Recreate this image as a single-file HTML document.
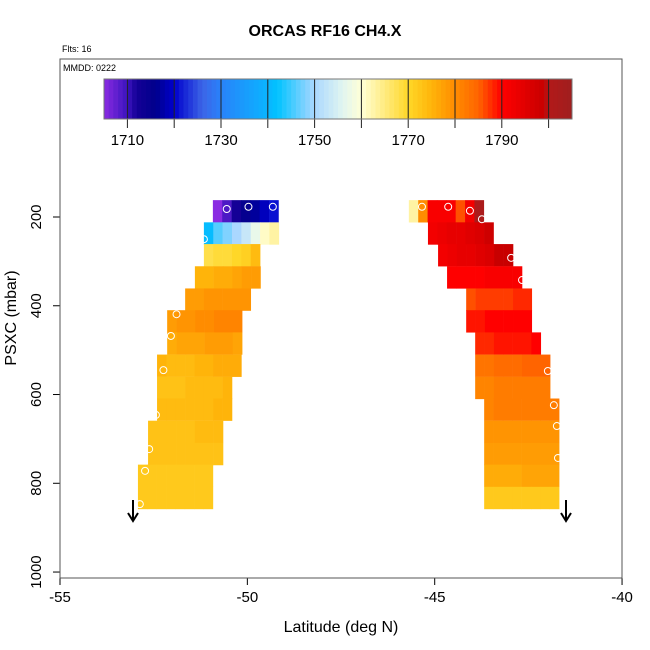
<!DOCTYPE html>
<html><head><meta charset="utf-8"><style>
body{margin:0;background:#fff}
svg{display:block;font-family:"Liberation Sans",sans-serif}
</style></head><body>
<svg id="c" width="650" height="650">
<text x="325" y="36" text-anchor="middle" font-size="16" font-weight="bold">ORCAS RF16 CH4.X</text>
<text x="62" y="52" font-size="9">Flts: 16</text>
<text x="63" y="71" font-size="9">MMDD: 0222</text>
<text x="341" y="632" text-anchor="middle" font-size="16">Latitude (deg N)</text>
<text transform="translate(16,318) rotate(-90)" text-anchor="middle" font-size="16">PSXC (mbar)</text>
<g id="cb"></g>
<g id="cells"></g>
<g id="pts"></g>
<g id="ax"></g>
<rect x="60" y="59" width="562" height="519" fill="none" stroke="#555" stroke-width="1"/>
<g><line x1="133" y1="500" x2="133" y2="520" stroke="#000" stroke-width="2"/><path d="M128,513 L133,521 L138,513" fill="none" stroke="#000" stroke-width="2"/></g>
<g><line x1="566" y1="500" x2="566" y2="520" stroke="#000" stroke-width="2"/><path d="M561,513 L566,521 L571,513" fill="none" stroke="#000" stroke-width="2"/></g>
</svg>
<script>
const xTicks=[-55,-50,-45,-40];
const yTicks=[200,400,600,800,1000];
const cbTicks=[1710,1730,1750,1770,1790];
const rowTops=[162,212,261,311,361,410,460,510,560,609,659,709,758,808];
const rowStep=49.7;
const leftStart=[-50.92,-51.16,-51.16,-51.40,-51.66,-52.14,-52.14,-52.41,-52.41,-52.41,-52.65,-52.65,-52.92,-52.92];
const leftVals=[
[1705,1709,1712,1715,1717,1719,1721],
[1741,1746,1748,1750,1753,1757,1761,1763],
[1768,1769,1769,1770,1771,1774],
[1775,1775,1776,1776,1777,1778,1778],
[1778,1778,1779,1779,1779,1779,1779],
[1778,1779,1779,1780,1780,1781,1781,1781],
[1776,1777,1777,1777,1778,1778,1778,1777],
[1775,1774,1774,1774,1775,1775,1776,1776,1776],
[1773,1773,1773,1774,1774,1774,1774,1775],
[1774,1774,1774,1774,1774,1774,1775,1775],
[1773,1773,1773,1773,1773,1774,1774,1774],
[1773,1773,1773,1773,1773,1773,1773,1773],
[1772,1772,1772,1772,1772,1772,1772,1772],
[1772,1772,1772,1772,1772,1772,1772,1772]];
const rightStart=[-45.69,-45.18,-44.91,-44.67,-44.16,-44.16,-43.92,-43.92,-43.92,-43.68,-43.68,-43.68,-43.68,-43.68];
const rightVals=[
[1763,1780,1791,1791,1791,1786,1792,1802],
[1792,1793,1794,1794,1795,1796,1798],
[1792,1793,1794,1794,1795,1796,1799,1799],
[1790,1790,1790,1790,1791,1791,1791,1791],
[1786,1787,1787,1787,1787,1788,1788],
[1789,1789,1790,1790,1790,1790,1790],
[1788,1788,1789,1789,1789,1789,1790],
[1783,1783,1784,1784,1784,1785,1785,1785],
[1781,1781,1782,1782,1782,1782,1782,1782],
[1781,1782,1782,1782,1782,1782,1782,1782],
[1779,1779,1779,1779,1779,1779,1779,1779],
[1778,1778,1778,1778,1778,1778,1778,1778],
[1776,1776,1776,1776,1777,1777,1777,1777],
[1772,1772,1772,1772,1772,1772,1772,1772]];
const ptLat=[-50.55,-49.97,-49.32,-51.16,-51.89,-52.04,-52.24,-52.44,-52.62,-52.73,-52.87,-45.34,-44.64,-44.06,-43.74,-42.96,-42.67,-41.98,-41.82,-41.74,-41.71];
const ptP=[182,177,177,250,419,468,545,646,723,772,847,177,177,186,205,292,342,547,624,671,743];
const cellW=0.25;
const NS='http://www.w3.org/2000/svg';
const X=l=>60+(l+55)*37.47;
const Y=p=>217+(p-200)*0.4438;
const CB=v=>104+(v-1705)*4.68;
const stops=[[1705,[138,43,226]],[1710,[60,20,190]],[1712,[20,0,150]],[1716,[0,0,140]],[1720,[0,0,205]],[1726,[60,100,230]],[1730,[40,130,250]],[1740,[10,180,255]],[1742,[0,195,255]],[1750,[170,215,255]],[1756,[225,245,240]],[1760,[255,255,215]],[1770,[255,215,40]],[1775,[255,180,10]],[1780,[255,140,0]],[1785,[255,100,0]],[1790,[255,0,0]],[1799,[200,0,0]],[1800,[178,25,25]],[1805,[160,30,30]]];
function col(v){
  if(v<=stops[0][0])return 'rgb('+stops[0][1]+')';
  for(let i=1;i<stops.length;i++){if(v<=stops[i][0]){const a=stops[i-1],b=stops[i],t=(v-a[0])/(b[0]-a[0]);return 'rgb('+a[1].map((c,k)=>Math.round(c+(b[1][k]-c)*t)).join(',')+')';}}
  return 'rgb('+stops[stops.length-1][1]+')';
}
function mk(tag,at,parent){const e=document.createElementNS(NS,tag);for(const k in at)e.setAttribute(k,at[k]);parent.appendChild(e);return e;}
const cb=document.getElementById('cb');
for(let v=1705;v<1805;v++){
  const r=mk('rect',{x:CB(v),y:79,width:4.68+0.4,height:40,fill:col(v+0.5)},cb);
  
  
}
for(let v=1710;v<1805;v+=10){
  const l=mk('line',{x1:CB(v),y1:79,x2:CB(v),y2:128,stroke:'#222','stroke-width':1},cb);
  
  
}
mk('rect',{x:CB(1705),y:79,width:CB(1805)-CB(1705),height:40,fill:'none',stroke:'#777'},cb);
cbTicks.forEach(v=>{const t=mk('text',{x:CB(v),y:145,'text-anchor':'middle','font-size':15},cb);t.textContent=v;
  
  });
const cells=document.getElementById('cells');
function drawBlock(starts,vals,side){
  vals.forEach((row,i)=>{row.forEach((v,j)=>{
    const l0=starts[i]+j*cellW;
    const r=mk('rect',{x:X(l0),y:Y(rowTops[i]),width:X(l0+cellW)-X(l0)+0.3,height:Y(rowTops[i]+rowStep)-Y(rowTops[i])+0.3,fill:col(v)},cells);
    
    
  });});
}
drawBlock(leftStart,leftVals,'left');
drawBlock(rightStart,rightVals,'right');
const pts=document.getElementById('pts');
ptLat.forEach((l,i)=>{const c=mk('circle',{cx:X(l),cy:Y(ptP[i]),r:3.5,fill:'none',stroke:'#fff','stroke-width':1},pts);
  
  });
const ax=document.getElementById('ax');
xTicks.forEach(v=>{mk('line',{x1:X(v),y1:578,x2:X(v),y2:585,stroke:'#000'},ax);
  const t=mk('text',{x:X(v),y:602,'text-anchor':'middle','font-size':15},ax);t.textContent=v;
  
  });
yTicks.forEach(v=>{mk('line',{x1:53,y1:Y(v),x2:60,y2:Y(v),stroke:'#000'},ax);
  const t=mk('text',{transform:'translate(41,'+Y(v)+') rotate(-90)','text-anchor':'middle','font-size':15},ax);t.textContent=v;
  
  });
</script>
</body></html>
